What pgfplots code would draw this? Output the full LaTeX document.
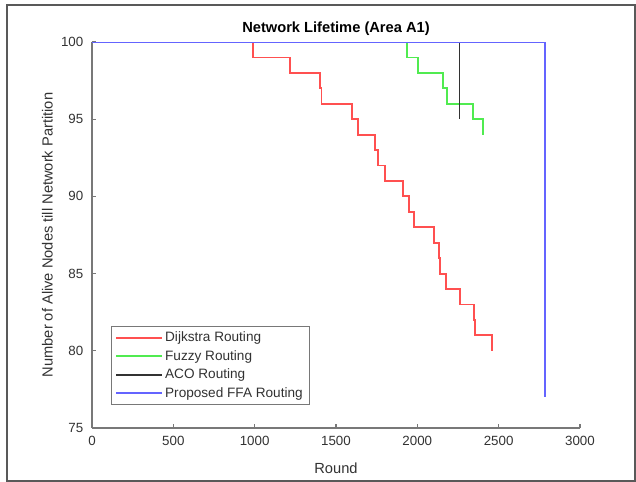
\documentclass[border=0pt]{standalone}
\usepackage{pgfplots}
\pgfplotsset{compat=1.18}
\usepackage{fontspec}
\setmainfont{Liberation Sans}
\definecolor{axgray}{RGB}{120,120,120}
\definecolor{txtgray}{RGB}{50,50,50}
\definecolor{mred}{RGB}{255,80,80}
\definecolor{mgreen}{RGB}{80,235,80}
\definecolor{mblue}{RGB}{100,100,255}
\definecolor{mblack}{RGB}{50,50,50}
\begin{document}
\begin{tikzpicture}
\begin{axis}[
  at={(0,0)}, anchor=south west,
  scale only axis,
  width=366pt, height=289.5pt,
  xmin=0, xmax=3000, ymin=75, ymax=100,
  xtick={0,500,1000,1500,2000,2500,3000},
  ytick={75,80,85,90,95,100},
  axis x line*=bottom, axis y line*=left,
  axis line style={axgray, line width=0.8pt},
  tick style={axgray, line width=0.8pt},
  tick align=inside,
  major tick length=3pt,
  /pgf/number format/assume math mode=true,
  /pgf/number format/1000 sep={},
  ticklabel style={font=\fontsize{10}{12}\selectfont, text=txtgray},
  xticklabel style={yshift=-2.5pt},
  yticklabel style={xshift=-3pt},
  title={\textbf{Network Lifetime (Area A1)}},
  title style={font=\fontsize{11}{13}\selectfont, at={(0.5,1)}, anchor=south, yshift=-5pt},
  xlabel={Round},
  ylabel={Number of Alive Nodes till Network Partition},
  label style={font=\fontsize{11}{13}\selectfont, text=txtgray},
  xlabel style={yshift=-6pt},
  ylabel style={yshift=-0.7pt},
  legend cell align=left,
  legend style={at={(0.039,0.06)}, anchor=south west, draw=axgray,
    font=\fontsize{10.2}{12}\selectfont, text=txtgray, row sep=1pt,
    inner xsep=3pt, inner ysep=2pt},
  legend image code/.code={\draw[#1] (0pt,0pt) -- (34pt,0pt);},
]
\addplot[mred, line width=1.4pt, const plot, forget plot] coordinates {
(0,100) (990,99) (1219,98) (1401,97) (1411,96) (1596,95) (1637,94) (1739,93) (1757,92) (1800,91) (1914,90) (1950,89) (1981,88) (2102,87) (2135,86) (2140,85) (2176,84) (2262,83) (2350,82) (2354,81) (2457,80)
};
\addplot[mgreen, line width=1.4pt, const plot, forget plot] coordinates {
(0,100) (1934,99) (2005,98) (2159,97) (2184,96) (2340,95) (2405,94)
};
\addplot[mblack, line width=1.1pt, forget plot] coordinates {
(0,100) (2258,100) (2258,95)
};
\addplot[mblue, line width=1.7pt, forget plot] coordinates {
(0,100) (2784,100) (2784,77)
};
\addlegendimage{mred, line width=1.4pt}
\addlegendentry{Dijkstra Routing}
\addlegendimage{mgreen, line width=1.4pt}
\addlegendentry{Fuzzy Routing}
\addlegendimage{mblack, line width=1.4pt}
\addlegendentry{ACO Routing}
\addlegendimage{mblue, line width=1.4pt}
\addlegendentry{Proposed FFA Routing}
\end{axis}
\pgfresetboundingbox
\path (-69pt,-40.5pt) rectangle (408pt,321pt);
\draw[black!65, line width=1.1pt] (-63.75pt,-39.75pt) rectangle (407.25pt,317.25pt);
\end{tikzpicture}
\end{document}
